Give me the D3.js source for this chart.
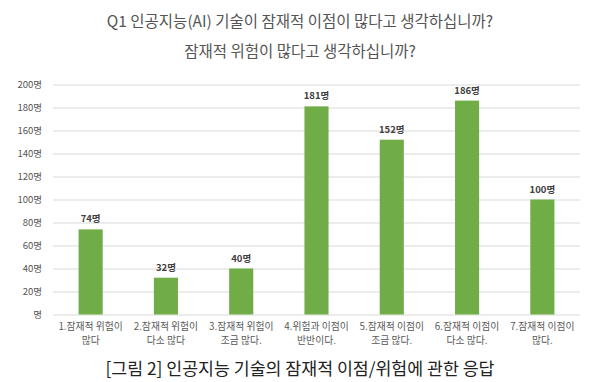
<!DOCTYPE html>
<html><head><meta charset="utf-8">
<script src="https://cdn.jsdelivr.net/npm/d3@7"></script>
<style>body{margin:0;background:#fff}svg{display:block}</style>
</head><body>
<svg id="c" width="600" height="382"></svg>
<script>
const categories = ["1.잠재적 위험이|많다","2.잠재적 위험이|다소 많다","3.잠재적 위험이|조금 많다.","4.위험과 이점이|반반이다.","5.잠재적 이점이|조금 많다.","6.잠재적 이점이|다소 많다.","7.잠재적 이점이|많다."];
const values = [74,32,40,181,152,186,100];
const yTicks = [0,20,40,60,80,100,120,140,160,180,200];
const titleLines = ["Q1 인공지능(AI) 기술이 잠재적 이점이 많다고 생각하십니까?","잠재적 위험이 많다고 생각하십니까?"];
const caption = "[그림 2] 인공지능 기술의 잠재적 이점/위험에 관한 응답";

const font = "'Noto Sans CJK KR','Noto Sans',sans-serif";
const svg = d3.select("#c");
const L=53, R=580, T=84.5, B=314.5;
const x = d3.scaleBand().domain(categories).range([L,R]).paddingInner(0.68).paddingOuter(0.34);
const y = d3.scaleLinear().domain([0,200]).range([B,T]);

svg.selectAll("text.title").data(titleLines).enter().append("text")
  .attr("x",300).attr("y",(d,i)=>27+i*30).attr("text-anchor","middle")
  .attr("font-family",font).attr("font-size",15.5).attr("fill","#555").text(d=>d);

const yAxis = d3.axisLeft(y).tickValues(yTicks).tickSize(-(R-L)).tickFormat(d=>(d===0?"":d)+"명");
const ga = svg.append("g").attr("transform",`translate(${L},0)`).call(yAxis);
ga.select(".domain").remove();
ga.selectAll(".tick line").attr("stroke","#d9d9d9").attr("stroke-width",1);
ga.selectAll(".tick text").attr("x",-11).attr("font-family",font).attr("font-size",9.5).attr("fill","#555");

svg.selectAll("rect.bar").data(values).enter().append("rect")
  .attr("x",(d,i)=>x(categories[i])).attr("width",x.bandwidth())
  .attr("y",d=>y(d)).attr("height",d=>B-y(d)).attr("fill","#70ad47");

svg.selectAll("text.val").data(values).enter().append("text")
  .attr("x",(d,i)=>x(categories[i])+x.bandwidth()/2).attr("y",d=>y(d)-7)
  .attr("text-anchor","middle").attr("font-family",font).attr("font-size",9.5)
  .attr("font-weight","bold").attr("fill","#404040").text(d=>d+"명");

const xl = svg.selectAll("text.cat").data(categories).enter().append("text")
  .attr("text-anchor","middle").attr("font-family",font).attr("font-size",9.8).attr("fill","#595959");
xl.each(function(d){
  const t=d3.select(this); const cx=x(d)+x.bandwidth()/2;
  d.split("|").forEach((s,k)=>t.append("tspan").attr("x",cx).attr("y",330+k*14).text(s));
});

svg.append("text").attr("x",300).attr("y",375).attr("text-anchor","middle")
  .attr("font-family",font).attr("font-size",17.3).attr("fill","#222").text(caption);
</script>
</body></html>
